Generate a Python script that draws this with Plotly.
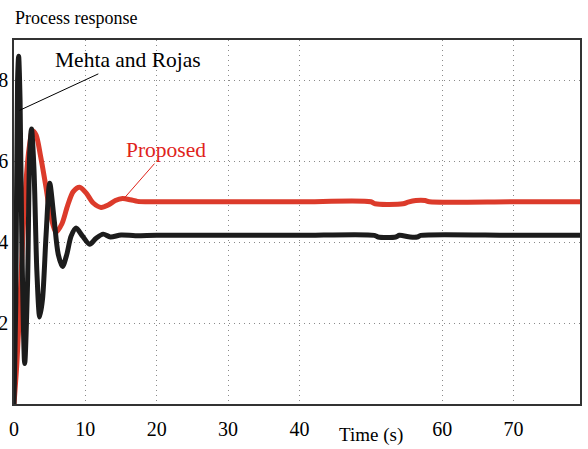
import plotly.graph_objects as go

# Step responses of the two controller designs
t_proposed = [0, 0.4, 0.8, 1.2, 1.6, 2.1, 2.6, 3.1, 3.7, 4.4, 5.1, 5.9, 6.7, 7.5, 8.3,
              9.2, 10.1, 11.1, 12.2, 13.2, 14.2, 15.2, 16.3, 17.3, 18.5, 20, 30, 40,
              50.0, 50.6, 54.5, 55.2, 56.3, 57.6, 58.2, 70, 79.3]
y_proposed = [0, 0.10, 0.24, 0.40, 0.53, 0.63, 0.675, 0.665, 0.615, 0.545, 0.47, 0.425,
              0.445, 0.49, 0.525, 0.536, 0.522, 0.497, 0.486, 0.492, 0.503, 0.508, 0.505,
              0.501, 0.500, 0.500, 0.500, 0.500, 0.500, 0.495, 0.495, 0.499, 0.503, 0.503,
              0.500, 0.500, 0.500]

t_mehta = [0, 0.25, 0.5, 0.65, 0.85, 1.1, 1.5, 1.9, 2.2, 2.45, 2.8, 3.2, 3.6, 4.0, 4.5,
           5.0, 5.6, 6.2, 6.8, 7.4, 8.0, 8.7, 9.6, 10.6, 11.5, 12.5, 13.5, 15, 17, 20, 30,
           40, 50.5, 51, 53.5, 54, 55.5, 56.5, 57, 70, 79.3]
y_mehta = [0, 0.25, 0.80, 0.86, 0.75, 0.40, 0.10, 0.30, 0.62, 0.68, 0.58, 0.33, 0.215,
           0.26, 0.42, 0.546, 0.46, 0.37, 0.34, 0.37, 0.415, 0.435, 0.415, 0.395, 0.41,
           0.42, 0.413, 0.418, 0.416, 0.417, 0.417, 0.417, 0.417, 0.413, 0.413, 0.417,
           0.413, 0.413, 0.417, 0.417, 0.417]

x_ticks = [0, 10, 20, 30, 40, 60, 70]
y_ticks = [0.2, 0.4, 0.6, 0.8]

SERIF = "Liberation Serif"
tick_font = dict(family=SERIF, size=20, color="black")

fig = go.Figure()
fig.add_trace(go.Scatter(x=t_proposed, y=y_proposed, mode="lines", name="Proposed",
                         line=dict(color="#dc3b2b", width=5, shape="spline", smoothing=0.8)))
fig.add_trace(go.Scatter(x=t_mehta, y=y_mehta, mode="lines", name="Mehta and Rojas",
                         line=dict(color="#1c1c1c", width=5, shape="spline", smoothing=0.8)))

fig.update_layout(
    width=588, height=449,
    margin=dict(l=14, r=8, t=40, b=45),
    paper_bgcolor="white", plot_bgcolor="white",
    showlegend=False,
    font=dict(family=SERIF, size=19, color="black"),
    title=dict(text="Process response", xref="container", yref="container",
               x=15 / 588, xanchor="left", y=1 - 18 / 449, yanchor="middle",
               font=dict(family=SERIF, size=18, color="black")),
)

grid = dict(showgrid=True, gridcolor="#8a8a8a", gridwidth=1, griddash="1px,4px",
            showline=True, linecolor="#333333", linewidth=1.5, mirror=True,
            zeroline=False, ticks="", automargin=False, tickfont=tick_font)
fig.update_xaxes(range=[0, 79.3], tickvals=x_ticks, ticktext=[str(v) for v in x_ticks],
                 ticklabelstandoff=6, **grid)
fig.update_yaxes(range=[0, 0.9], tickvals=y_ticks, ticktext=[f"{v:.1f}" for v in y_ticks],
                 ticklabelstandoff=0, **grid)

fig.add_annotation(x=0.77, y=0.726, xref="x", yref="y", text="Mehta and Rojas",
                   showarrow=True, arrowhead=0, arrowwidth=1, arrowcolor="black",
                   ax=108, ay=-50, font=dict(family=SERIF, size=21.5, color="black"))
fig.add_annotation(x=15.45, y=0.509, xref="x", yref="y", text="Proposed",
                   showarrow=True, arrowhead=0, arrowwidth=1, arrowcolor="#e0231b",
                   ax=42, ay=-48, font=dict(family=SERIF, size=21.5, color="#e0231b"))
fig.add_annotation(x=50, y=-0.05, xref="x", yref="paper", yanchor="top",
                   text="Time (s)", showarrow=False,
                   font=dict(family=SERIF, size=19, color="black"))

fig.write_html("out.html")
